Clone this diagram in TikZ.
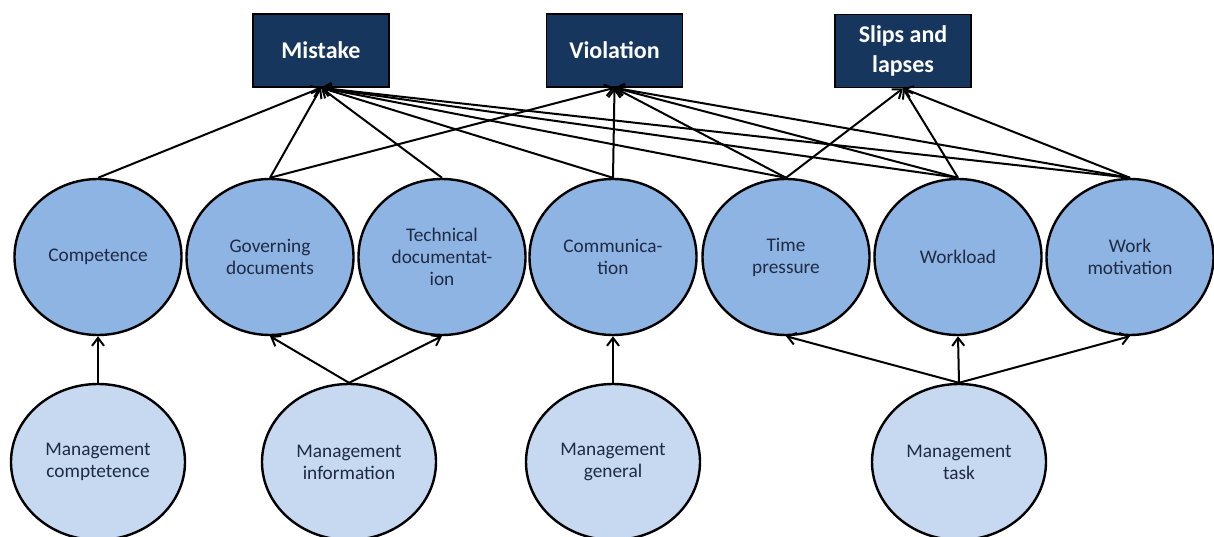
\documentclass[tikz,border=0pt]{standalone}
\usepackage{fontspec}
\setmainfont{Carlito}
\usetikzlibrary{arrows.meta,shapes.geometric}
\definecolor{errnavy}{HTML}{17365D}
\definecolor{factorblue}{HTML}{8EB4E3}
\definecolor{mgmtblue}{HTML}{C6D9F1}
\definecolor{labelink}{HTML}{1F2A44}

\begin{document}
\begin{tikzpicture}[x=1pt,y=-1pt,
  errbox/.style={draw=black,line width=1.6pt,fill=errnavy,minimum width=136pt,minimum height=73pt,align=center,text=white,font=\fontsize{24}{30}\selectfont\bfseries},
  factor/.style={ellipse,draw=black,line width=2.4pt,fill=factorblue,minimum width=167pt,minimum height=156pt,inner sep=0pt,align=center,text=labelink,font=\fontsize{19.3}{22}\selectfont},
  mgmt/.style={factor,fill=mgmtblue,minimum width=174pt},
  arrow/.style={-{Straight Barb[length=8pt,width=12pt]},line width=2pt}
]
\useasboundingbox (0,0) rectangle (1214,537);
\node[errbox] (mistake) at (321,50.5) {Mistake};
\node[errbox] (violation) at (614.5,50.5) {Violation};
\node[errbox] (slips) at (903,51) {Slips and\\lapses};
\node[factor] (comp) at (98,257) {Competence};
\node[factor] (gov) at (270,257) {Governing\\documents};
\node[factor] (tech) at (442,257) {Technical\\documentat-\\ion};
\node[factor] (comm) at (613,257) {Communica-\\tion};
\node[factor] (time) at (786,257) {Time\\pressure};
\node[factor] (load) at (958,257) {Workload};
\node[factor] (motiv) at (1130,257) {Work\\motivation};
\node[mgmt] (mcomp) at (98,462) {Management\\comptetence};
\node[mgmt] (minfo) at (349,462) {Management\\information};
\node[mgmt] (mgen) at (613,462) {Management\\general};
\node[mgmt] (mtask) at (959,462) {Management\\task};
% factors -> error types
\draw[arrow] (comp.north) -- (mistake.south);
\draw[arrow] (gov.north) -- (mistake.south);
\draw[arrow] (tech.north) -- (mistake.south);
\draw[arrow] (comm.north) -- (mistake.south);
\draw[arrow] (time.north) -- (mistake.south);
\draw[arrow] (load.north) -- (mistake.south);
\draw[arrow] (motiv.north) -- (mistake.south);
\draw[arrow] (gov.north) -- (violation.south);
\draw[arrow] (comm.north) -- (violation.south);
\draw[arrow] (time.north) -- (violation.south);
\draw[arrow] (load.north) -- (violation.south);
\draw[arrow] (motiv.north) -- (violation.south);
\draw[arrow] (time.north) -- (slips.south);
\draw[arrow] (load.north) -- (slips.south);
\draw[arrow] (motiv.north) -- (slips.south);
% management -> factors
\draw[arrow] (mcomp.north) -- (comp.south);
\draw[arrow] (minfo.north) -- (gov.south);
\draw[arrow] (minfo.north) -- (tech.south);
\draw[arrow] (mgen.north) -- (comm.south);
\draw[arrow] (mtask.north) -- (time.south);
\draw[arrow] (mtask.north) -- (load.south);
\draw[arrow] (mtask.north) -- (motiv.south);
\end{tikzpicture}
\end{document}
